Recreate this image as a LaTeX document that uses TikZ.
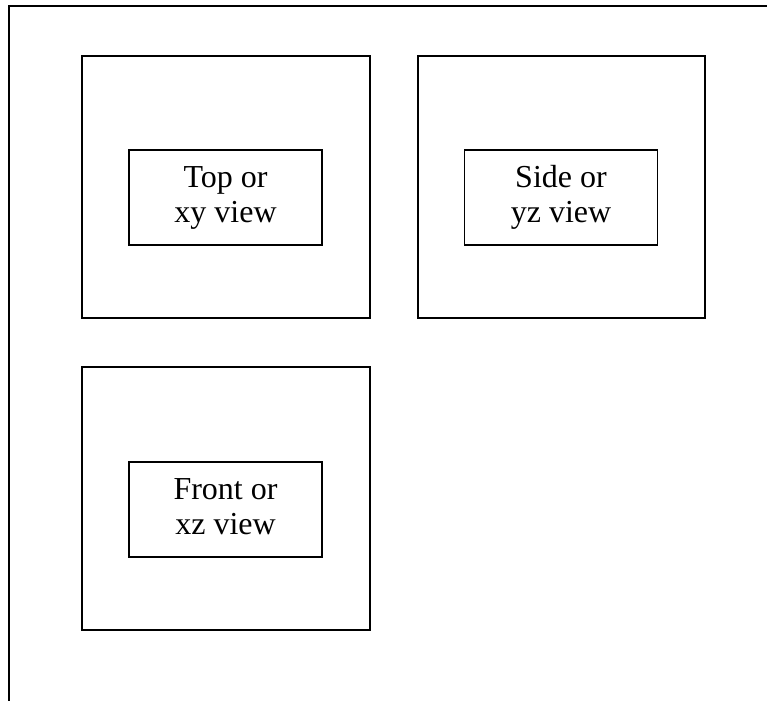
\documentclass[tikz,border=0pt]{standalone}
\usepackage{fontspec}
\setmainfont{Liberation Serif}
\newcommand{\viewtext}[2]{\raisebox{-2pt}{\begin{tabular}{@{}c@{}}#1\\#2\end{tabular}}}
\begin{document}
\begin{tikzpicture}[x=1pt,y=-1pt,
  viewframe/.style={draw,line width=2pt},
  viewlabel/.style={draw,line width=1.8pt,minimum width=193pt,minimum height=95pt,
    align=center,font=\fontsize{32}{35}\selectfont,inner sep=0pt},
]
\useasboundingbox (0,0) rectangle (767,701);
% open page frame: top edge and left edge only
\draw[line width=2pt] (767,6) -- (8.5,6) -- (8.5,701);
% outer view frames
\draw[viewframe] (81.5,55.5) rectangle (370,318);
\draw[viewframe] (417.5,55.5) rectangle (705,318);
\draw[viewframe] (81.5,366.5) rectangle (370,630);
% inner labels
\node[viewlabel] (top) at (225.5,197.5) {\viewtext{Top or}{xy view}};
\node[viewlabel] (side) at (561,197.5) {\viewtext{Side or}{yz view}};
\node[viewlabel] (front) at (225.5,509.5) {\viewtext{Front or}{xz view}};
\end{tikzpicture}
\end{document}
